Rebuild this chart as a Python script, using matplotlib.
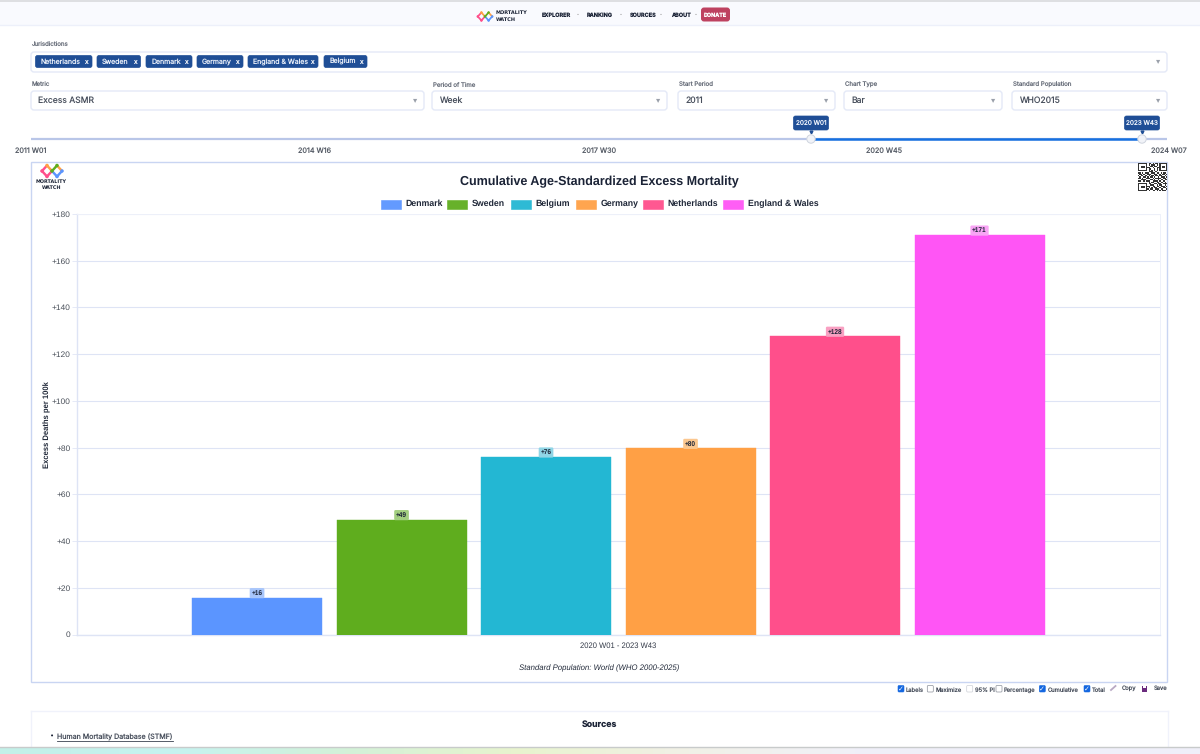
import matplotlib
matplotlib.use("Agg")
import matplotlib.pyplot as plt
from matplotlib.patches import FancyBboxPatch, Rectangle, Circle
from matplotlib.colors import LinearSegmentedColormap

plt.rcParams["text.hinting"] = "none"
plt.rcParams["text.hinting_factor"] = 8

# ---- data ----
countries = ["Denmark", "Sweden", "Belgium", "Germany", "Netherlands", "England & Wales"]
values = [15.8, 49.2, 76.0, 79.7, 127.7, 171.0]
labels = ["+16", "+49", "+76", "+80", "+128", "+171"]
colors = ["#5B95FF", "#5FAD1E", "#23B7D3", "#FFA045", "#FF4F8B", "#FF55F5"]
label_bg = ["#A8C6FB", "#A3CF80", "#90D6E6", "#FBC78F", "#F9A0C2", "#F9A5F5"]
yticks = [0, 20, 40, 60, 80, 100, 120, 140, 160, 180]
ytick_labels = ["0", "+20", "+40", "+60", "+80", "+100", "+120", "+140", "+160", "+180"]
title = "Cumulative Age-Standardized Excess Mortality"
ylabel = "Excess Deaths per 100k"
xlabel = "2020 W01 - 2023 W43"
footer = "Standard Population: World (WHO 2000-2025)"
jurisdictions = ["Netherlands", "Sweden", "Denmark", "Germany", "England & Wales", "Belgium"]
nav_items = ["EXPLORER", "RANKING", "SOURCES", "ABOUT"]
slider_ticks = ["2011 W01", "2014 W16", "2017 W30", "2020 W45", "2024 W07"]

W, H = 1200, 754
fig = plt.figure(figsize=(W / 100, H / 100), dpi=100, facecolor="white")
ui = fig.add_axes([0, 0, 1, 1], zorder=0)
ui.set_xlim(0, W); ui.set_ylim(H, 0); ui.axis("off")
UI = "Inter"; CH = "Liberation Sans"
BORDER = "#E4E9F7"; LINE = "#C9D5F2"; NAVY = "#1F4E96"; TXT = "#4A515E"; DARK = "#1B2336"

def box(x, y, w, h, fc="white", ec=BORDER, lw=1.0, r=3, z=1):
    ui.add_patch(FancyBboxPatch((x + r, y + r), w - 2 * r, h - 2 * r, boxstyle=f"round,pad={r}",
                                fc=fc, ec=ec, lw=lw, zorder=z))
def t(x, y, s, size=6.2, color=TXT, ha="left", weight="normal", font=UI, z=5, **kw):
    return ui.text(x, y, s, fontsize=size, color=color, ha=ha, va="center", weight=weight,
                   family=font, zorder=z, **kw)

# page header
ui.add_patch(Rectangle((0, 0), W, 2, fc="#DEDFE2", ec="none"))
ui.add_patch(Rectangle((0, 2), W, 23, fc="#F9FAFE", ec="none"))
ui.plot([0, W], [25, 25], color="#EDF0FA", lw=1)
def logo(cx, cy, s):
    segs = [((-4, 0), (-2, -2.2), "#FF4F8B"), ((-4, 0), (-2, 2.2), "#FF4F8B"),
            ((-2, -2.2), (0, 0), "#FFA045"), ((-2, 2.2), (0, 0), "#FF4F8B"),
            ((0, 0), (2, -2.2), "#5FAD1E"), ((0, 0), (2, 2.2), "#5B95FF"),
            ((2, 2.2), (4, 0), "#5B95FF"), ((2, -2.2), (4, 0), "#FFA045")]
    for a, b, c in segs:
        ui.plot([cx + a[0] * s, cx + b[0] * s], [cy + a[1] * s, cy + b[1] * s], color=c,
                lw=0.7 * s, solid_capstyle="round", zorder=3)
    for dx, dy, c in [(-4, 0, "#FF4F8B"), (-2, -2.2, "#FFA045"), (-2, 2.2, "#FF4F8B"), (0, 0, "#5FAD1E"),
                      (2, -2.2, "#5FAD1E"), (2, 2.2, "#5B95FF"), (4, 0, "#5B95FF")]:
        ui.add_patch(Circle((cx + dx * s, cy + dy * s), 0.7 * s, fc=c, ec="none", zorder=3))
logo(485, 16.5, 1.8)
t(496, 13, "MORTALITY", size=3.6, color=DARK, weight="bold", font="DejaVu Sans")
t(496, 19.5, "WATCH", size=3.6, color=DARK, weight="bold", font="DejaVu Sans")
for x, s in zip([542, 587, 630, 671], nav_items):
    t(x, 15.5, s, size=4.0, color=DARK, weight="bold")
for x in [578, 621, 661, 696]:
    t(x, 14.5, "·", size=5, color="#999999", ha="center")
box(701, 7.5, 29, 14, fc="#BE4260", ec="none", r=3)
t(715.5, 15, "DONATE", size=3.9, color="white", ha="center", weight="bold")

# jurisdictions
t(31.5, 45.5, "Jurisdictions", size=4.4, color="#6A707C")
box(31, 52, 1136, 20)
chip_x = [35.5, 97, 146, 197, 248, 324]
chip_end = [92, 140.5, 192, 243, 318, 367]
for x, e, s in zip(chip_x, chip_end, jurisdictions):
    box(x, 55.5, e - x, 12, fc=NAVY, ec=NAVY, lw=0.5, r=2)
    t(x + 5.2, 61.5, s, size=5.0, color="#E8EEF8")
    t(e - 5.8, 62, "x", size=4.8, color="white", ha="center")
t(1158, 60.5, "▾", size=6, color="#9AA0AA", ha="center", font="DejaVu Sans")

# dropdowns
for lab, val, x, w in [("Metric", "Excess ASMR", 31, 393), ("Period of Time", "Week", 432, 235),
                       ("Start Period", "2011", 678, 157), ("Chart Type", "Bar", 844, 158),
                       ("Standard Population", "WHO2015", 1012, 155)]:
    t(x + 1, 85, lab, size=4.4, color="#6A707C")
    box(x, 91, w, 19)
    t(x + 7.5, 100.5, val, size=6.2, color=TXT)
    t(x + w - 9, 99.5, "▾", size=6, color="#9AA0AA", ha="center", font="DejaVu Sans")

# slider
ui.plot([31, 1167], [138.5, 138.5], color="#B9C6E8", lw=1.6, solid_capstyle="butt", zorder=2)
ui.plot([811, 1142], [138.5, 138.5], color="#1670E0", lw=1.8, solid_capstyle="butt", zorder=3)
for x, s in zip([30.5, 315, 599.5, 884, 1168.5], slider_ticks):
    t(x, 150.5, s, size=5.2, color="#5A606A", ha="center")
for x, s in [(811, "2020 W01"), (1142, "2023 W43")]:
    box(x - 17.5, 116, 35, 14, fc=NAVY, ec=NAVY, lw=0.5, r=2, z=3)
    t(x, 123, s, size=4.6, color="#E8EEF8", ha="center")
    ui.plot([x], [132], marker="v", ms=2.0, color=NAVY, zorder=3)
    ui.add_patch(Circle((x, 139), 4.2, fc="#F1F3F8", ec="#CFD4DE", lw=0.7, zorder=6))

# chart frame
ui.add_patch(Rectangle((31, 161.5), 1136, 520, fc="white", ec=LINE, lw=1.0, zorder=1))
logo(52, 171, 2.5)
t(51.5, 181.5, "MORTALITY", size=3.5, color=DARK, ha="center", weight="bold", font="DejaVu Sans")
t(51.5, 187.5, "WATCH", size=3.5, color=DARK, ha="center", weight="bold", font="DejaVu Sans")
# QR code: pattern of the code in the corner
qr = ["1111111011010110111111", "1000001010111010100001", "1011101001101100101101",
      "1011101110010011101101", "1000001011001010100001", "1111111010101010111111",
      "0000000011100100000000", "1101011100111011010110", "0110100111001100101101",
      "1011011010110110110010", "0100110101101001011101", "1101001110010111100110",
      "0011110001101001011011", "1100101110011110100100", "0000000010110011011010",
      "1111111011001101100111", "1000001001110010110010", "1011101110011011011101",
      "1011101010101100100110", "1000001101100111011001", "1111111010011010101110"]
cell = 1.33
for r, row in enumerate(qr):
    for c, v in enumerate(row):
        if v == "1":
            ui.add_patch(Rectangle((1138 + c * cell, 163 + r * cell), cell, cell, fc="#333333", ec="none", zorder=3))

t(599.5, 181.5, title, size=9.0, color=DARK, ha="center", weight="bold", font=CH)
lx = [381, 447, 511, 576, 643, 723]
for x, n, c in zip(lx, countries, colors):
    ui.add_patch(Rectangle((x, 199.5), 20, 9, fc=c, ec=c, lw=0.4, alpha=0.95, zorder=3))
    t(x + 24.5, 204, n, size=6.3, color="#1F2738", weight="bold", font=CH)
t(599.5, 668, footer, size=5.6, color="#222A3A", ha="center", style="italic", font=CH)

# main plot
left, right, top, bottom = 77, 1160, 214, 634.5
ax = fig.add_axes([left / W, 1 - bottom / H, (right - left) / W, (bottom - top) / H], zorder=2)
ax.patch.set_alpha(0)
x = list(range(len(countries)))
ax.bar(x, values, width=0.9, color=colors, edgecolor=colors, linewidth=0.3, zorder=3)
ax.set_xlim(-1.246, 6.249)
ax.set_ylim(0, 180)
ax.set_yticks(yticks)
ax.set_yticklabels(ytick_labels, fontsize=6.0, color="#4A505A", family=CH)
ax.set_xticks([2.5])
ax.set_xticklabels([xlabel], fontsize=5.5, color="#333A48", family=CH)
ax.set_ylabel(ylabel, fontsize=5.5, weight="bold", color="#222A3A", family=CH)
ax.yaxis.set_label_coords((51 - left) / (right - left), 0.5)
ax.grid(axis="y", color="#DEE4F5", lw=0.8, zorder=0)
for s in ["top", "right"]:
    ax.spines[s].set_color("#EEF1FA"); ax.spines[s].set_linewidth(0.7)
for s in ["left", "bottom"]:
    ax.spines[s].set_color("#DEE4F5"); ax.spines[s].set_linewidth(1.0)
ax.tick_params(axis="y", length=3.5, color="#E6EAF7", width=0.7, pad=1)
ax.tick_params(axis="x", length=0, pad=5.5)
for xi, v, s, bg in zip(x, values, labels, label_bg):
    ax.text(xi, v + 1.9, s, ha="center", va="center", fontsize=4.7, weight="bold", color="#1B2336",
            family=CH, zorder=5, bbox=dict(boxstyle="round,pad=0.28,rounding_size=0.2", fc=bg, ec="none"))

# options row
for bx, lab, on, tx in [(898, "Labels", True, 905.7), (927.3, "Maximize", False, 936), (966.7, "95% PI", False, 975),
                        (996, "Percentage", False, 1003.7), (1039.3, "Cumulative", True, 1047.7), (1084, "Total", True, 1092.3)]:
    if on:
        box(bx, 685.5, 6, 6.5, fc="#1467E0", ec="#1467E0", lw=0.4, r=1, z=3)
        t(bx + 3, 688.7, "✓", size=5, color="white", ha="center", font="DejaVu Sans")
    else:
        box(bx, 685.5, 6, 6.5, fc="white", ec="#8A8F99" if lab != "95% PI" else "#CCCFD6", lw=0.5, r=1, z=3)
    t(tx, 690, lab, size=4.2, color=TXT)
ui.plot([1111, 1115.5], [690, 686], color="#B9A9C4", lw=1.3, zorder=3)
t(1122, 688.5, "Copy", size=4.2, color=TXT)
ui.add_patch(Rectangle((1141.5, 685.5), 5.5, 6, fc="#6B2C7E", ec="none", zorder=3))
ui.add_patch(Rectangle((1143, 685.8), 2.5, 1.8, fc="white", ec="none", zorder=4))
t(1154, 688.5, "Save", size=4.2, color=TXT)

# sources
ui.plot([31, 31], [711, 746], color="#F0F2FB", lw=1, zorder=2)
ui.plot([31, 1168], [710.5, 710.5], color="#F0F2FB", lw=1, zorder=2)
ui.plot([1168, 1168], [711, 746], color="#F0F2FB", lw=1, zorder=2)
t(599.5, 724, "Sources", size=6.3, color=DARK, ha="center", weight="bold")
t(52, 737, "•", size=5, color=DARK, ha="center", font="DejaVu Sans")
t(57, 737, "Human Mortality Database (STMF)", size=5.1, color=TXT)
ui.plot([57, 172.5], [741, 741], color="#3A4250", lw=0.6, zorder=5)

# bottom strip of the window
strip = ["#C3F0E8", "#C6F3F0", "#D3F1D8", "#E8F4CE", "#F1F0E6", "#F0F0F8", "#EFEFF9", "#EFEFF9"]
cm = LinearSegmentedColormap.from_list("strip", strip)
ui.imshow([[i / 100 for i in range(101)]], cmap=cm, extent=(0, W, H, 747), aspect="auto", zorder=4)
ui.set_xlim(0, W); ui.set_ylim(H, 0)
ui.plot([0, W], [746.5, 746.5], color="#C8CBCB", lw=1, zorder=5)

fig.savefig("out.png", dpi=100, facecolor="white")
